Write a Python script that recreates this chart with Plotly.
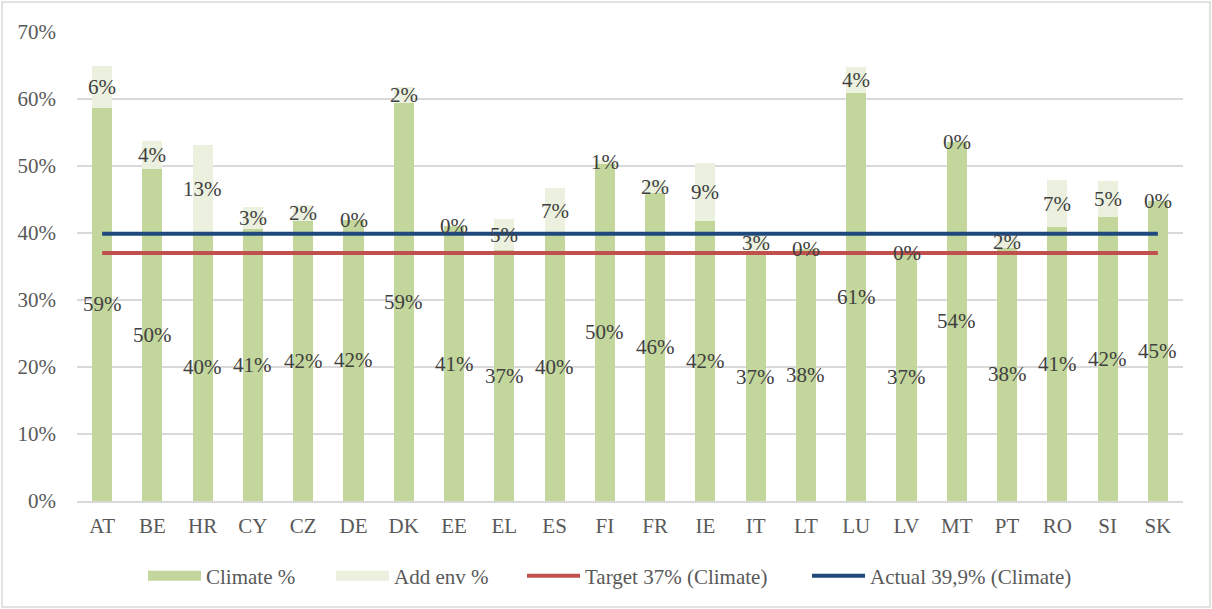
import plotly.graph_objects as go

categories = ["AT", "BE", "HR", "CY", "CZ", "DE", "DK", "EE", "EL", "ES", "FI",
              "FR", "IE", "IT", "LT", "LU", "LV", "MT", "PT", "RO", "SI", "SK"]
climate_pct = [58.7, 49.6, 40.0, 40.6, 41.8, 42.0, 59.4, 41.0, 37.4, 40.0, 50.3,
               46.0, 41.8, 37.0, 37.6, 60.9, 37.0, 53.6, 37.8, 40.9, 42.4, 44.8]
add_env_pct = [6.2, 4.1, 13.1, 3.3, 2.4, 0.0, 2.4, 0.0, 4.7, 6.7, 0.6,
               1.8, 8.6, 3.0, 0.0, 3.9, 0.0, 0.0, 1.8, 7.0, 5.4, 0.0]
target_value = 37.0
actual_value = 39.9
y_ticks = [0, 10, 20, 30, 40, 50, 60, 70]

FONT = "Liberation Serif, Times New Roman, serif"
FS = 21
GREEN = "#C3D69B"
LIGHT = "#EBF1DE"
RED = "#C0504D"
BLUE = "#1F497D"
TXT = "#595959"

L, R, T, B = 77, 29, 32, 108
W, H = 1212, 609
pw, ph = W - L - R, H - T - B

fig = go.Figure()
fig.add_trace(go.Bar(x=categories, y=[v / 100 for v in climate_pct], name="Climate %",
                     legendgroup="climate", showlegend=False,
                     marker=dict(color=GREEN, line=dict(width=0)), hoverinfo="skip"))
fig.add_trace(go.Bar(x=categories, y=[v / 100 for v in add_env_pct], name="Add env %",
                     legendgroup="addenv", showlegend=False,
                     marker=dict(color=LIGHT, line=dict(width=0)), hoverinfo="skip"))
fig.add_trace(go.Scatter(x=categories, y=[target_value / 100] * len(categories),
                         mode="lines", name="Target 37% (Climate)", legend="legend3",
                         line=dict(color=RED, width=4)))
fig.add_trace(go.Scatter(x=categories, y=[actual_value / 100] * len(categories),
                         mode="lines", name="Actual 39,9% (Climate)", legend="legend4",
                         line=dict(color=BLUE, width=4)))
# legend keys for the bar series (wide rectangular swatches as in the original)
fig.add_trace(go.Scatter(x=[None], y=[None], mode="lines", name="Climate %",
                         legendgroup="climate", legend="legend",
                         line=dict(color=GREEN, width=11)))
fig.add_trace(go.Scatter(x=[None], y=[None], mode="lines", name="Add env %",
                         legendgroup="addenv", legend="legend2",
                         line=dict(color=LIGHT, width=11)))

annotations = []
for c, v, a in zip(categories, climate_pct, add_env_pct):
    annotations.append(dict(x=c, y=v / 200, text=f"{v:.0f}%", showarrow=False,
                            font=dict(family=FONT, size=FS, color="#404040")))
    annotations.append(dict(x=c, y=(v + a / 2) / 100, text=f"{a:.0f}%", showarrow=False,
                            font=dict(family=FONT, size=FS, color="#404040")))


def leg(px):
    return dict(orientation="h", x=(px - L) / pw, xanchor="left",
                y=-75 / ph, yanchor="middle",
                font=dict(family=FONT, size=FS, color=TXT),
                itemwidth=53, bgcolor="rgba(0,0,0,0)", borderwidth=0)


fig.update_layout(
    width=W, height=H,
    margin=dict(l=L, r=R, t=T, b=B, pad=0),
    barmode="stack", bargap=0.6,
    plot_bgcolor="white", paper_bgcolor="white",
    font=dict(family=FONT, size=FS, color=TXT),
    annotations=annotations,
    showlegend=True,
    legend=leg(143), legend2=leg(331), legend3=leg(522), legend4=leg(807),
    xaxis=dict(range=[-0.5, len(categories) - 0.5], showgrid=False, ticks="",
               showline=True, linecolor="#D9D9D9", linewidth=1.5,
               tickfont=dict(family=FONT, size=FS, color=TXT),
               ticklabelstandoff=5, fixedrange=True),
    yaxis=dict(range=[0, 0.7], tickvals=[t / 100 for t in y_ticks],
               ticktext=[f"{t}%" for t in y_ticks],
               showgrid=True, gridcolor="#D9D9D9", gridwidth=1.5,
               zeroline=False, ticks="",
               tickfont=dict(family=FONT, size=FS, color=TXT),
               ticklabelstandoff=20, fixedrange=True),
    shapes=[dict(type="rect", xref="paper", yref="paper",
                 x0=(2 - L) / pw, x1=(W - 2 - L) / pw,
                 y0=(T + ph - (H - 2)) / ph, y1=(T + ph - 2) / ph,
                 line=dict(color="#D9D9D9", width=1.5), fillcolor="rgba(0,0,0,0)",
                 layer="below")],
)

fig.write_html("out.html", config={"displayModeBar": False},
               post_script="document.body.style.margin='0';")
